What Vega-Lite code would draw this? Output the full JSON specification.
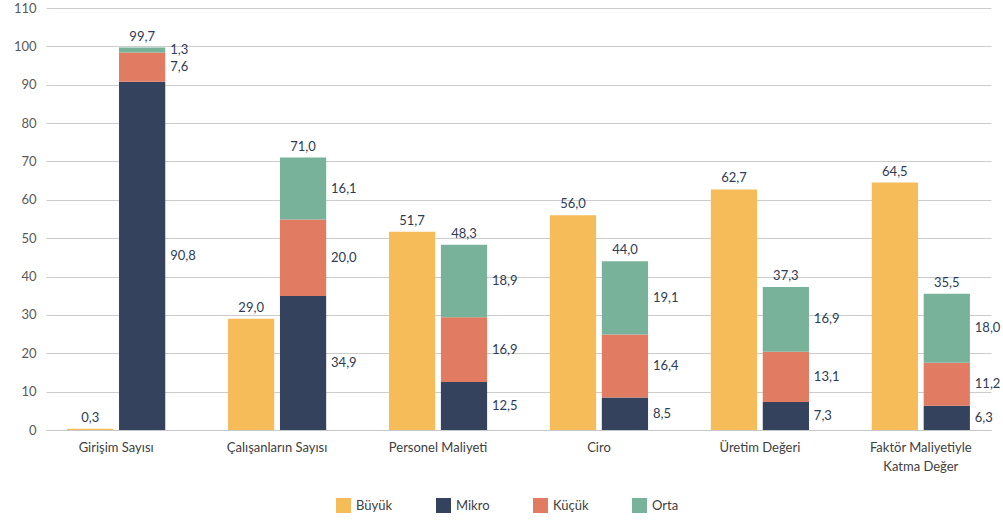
{
  "$schema": "https://vega.github.io/schema/vega-lite/v6.json",
  "width": 945,
  "height": 422,
  "autosize": {"type": "none"},
  "padding": {"left": 46, "top": 8, "right": 12, "bottom": 90},
  "background": "#ffffff",
  "data": {
    "values": [
      {"kategori": "Girişim Sayısı", "grup": "Büyük", "tur": "Büyük", "deger": 0.3},
      {"kategori": "Girişim Sayısı", "grup": "KOBİ", "tur": "Mikro", "deger": 90.8},
      {"kategori": "Girişim Sayısı", "grup": "KOBİ", "tur": "Küçük", "deger": 7.6},
      {"kategori": "Girişim Sayısı", "grup": "KOBİ", "tur": "Orta", "deger": 1.3},
      {"kategori": "Çalışanların Sayısı", "grup": "Büyük", "tur": "Büyük", "deger": 29.0},
      {"kategori": "Çalışanların Sayısı", "grup": "KOBİ", "tur": "Mikro", "deger": 34.9},
      {"kategori": "Çalışanların Sayısı", "grup": "KOBİ", "tur": "Küçük", "deger": 20.0},
      {"kategori": "Çalışanların Sayısı", "grup": "KOBİ", "tur": "Orta", "deger": 16.1},
      {"kategori": "Personel Maliyeti", "grup": "Büyük", "tur": "Büyük", "deger": 51.7},
      {"kategori": "Personel Maliyeti", "grup": "KOBİ", "tur": "Mikro", "deger": 12.5},
      {"kategori": "Personel Maliyeti", "grup": "KOBİ", "tur": "Küçük", "deger": 16.9},
      {"kategori": "Personel Maliyeti", "grup": "KOBİ", "tur": "Orta", "deger": 18.9},
      {"kategori": "Ciro", "grup": "Büyük", "tur": "Büyük", "deger": 56.0},
      {"kategori": "Ciro", "grup": "KOBİ", "tur": "Mikro", "deger": 8.5},
      {"kategori": "Ciro", "grup": "KOBİ", "tur": "Küçük", "deger": 16.4},
      {"kategori": "Ciro", "grup": "KOBİ", "tur": "Orta", "deger": 19.1},
      {"kategori": "Üretim Değeri", "grup": "Büyük", "tur": "Büyük", "deger": 62.7},
      {"kategori": "Üretim Değeri", "grup": "KOBİ", "tur": "Mikro", "deger": 7.3},
      {"kategori": "Üretim Değeri", "grup": "KOBİ", "tur": "Küçük", "deger": 13.1},
      {"kategori": "Üretim Değeri", "grup": "KOBİ", "tur": "Orta", "deger": 16.9},
      {"kategori": "Faktör Maliyetiyle Katma Değer", "grup": "Büyük", "tur": "Büyük", "deger": 64.5},
      {"kategori": "Faktör Maliyetiyle Katma Değer", "grup": "KOBİ", "tur": "Mikro", "deger": 6.3},
      {"kategori": "Faktör Maliyetiyle Katma Değer", "grup": "KOBİ", "tur": "Küçük", "deger": 11.2},
      {"kategori": "Faktör Maliyetiyle Katma Değer", "grup": "KOBİ", "tur": "Orta", "deger": 18.0}
    ]
  },
  "transform": [
    {"calculate": "indexof(['Büyük','Mikro','Küçük','Orta'], datum.tur)", "as": "sira"},
    {"stack": "deger", "groupby": ["kategori", "grup"], "sort": [{"field": "sira", "order": "ascending"}], "as": ["alt", "ust"]},
    {"calculate": "(datum.alt + datum.ust) / 2", "as": "orta"}
  ],
  "encoding": {
    "x": {
      "field": "kategori",
      "type": "nominal",
      "sort": null,
      "scale": {"paddingInner": 0.39, "paddingOuter": 0.131},
      "axis": {
        "title": null,
        "labelAngle": 0,
        "ticks": false,
        "domain": true,
        "domainColor": "#c8c8c8",
        "domainWidth": 1,
        "labelColor": "#404040",
        "labelFont": "Lato",
        "labelFontSize": 13,
        "labelPadding": 11,
        "labelLineHeight": 19,
        "labelExpr": "datum.value == 'Faktör Maliyetiyle Katma Değer' ? ['Faktör Maliyetiyle', 'Katma Değer'] : datum.label"
      }
    },
    "xOffset": {
      "field": "grup",
      "type": "nominal",
      "sort": ["Büyük", "KOBİ"],
      "scale": {"paddingInner": 0.11, "paddingOuter": 0}
    }
  },
  "layer": [
    {
      "mark": {"type": "bar"},
      "encoding": {
        "y": {
          "field": "ust",
          "type": "quantitative",
          "scale": {"domain": [0, 110], "nice": false},
          "axis": {
            "title": null,
            "values": [0, 10, 20, 30, 40, 50, 60, 70, 80, 90, 100, 110],
            "domain": false,
            "ticks": false,
            "gridColor": "#cccccc",
            "gridWidth": 1,
            "labelColor": "#595959",
            "labelFont": "Lato",
            "labelFontSize": 13,
            "labelPadding": 10
          }
        },
        "y2": {"field": "alt"},
        "color": {
          "field": "tur",
          "type": "nominal",
          "scale": {
            "domain": ["Büyük", "Mikro", "Küçük", "Orta"],
            "range": ["#F6BC5A", "#34425E", "#E17B62", "#79B29A"]
          },
          "legend": {
            "title": null,
            "orient": "none",
            "direction": "horizontal",
            "legendX": 290,
            "legendY": 490,
            "symbolType": "square",
            "symbolSize": 225,
            "symbolStrokeWidth": 0,
            "labelFont": "Lato",
            "labelFontSize": 13,
            "labelColor": "#404040",
            "labelOffset": 5,
            "columnPadding": 43
          }
        }
      }
    },
    {
      "transform": [{"filter": "datum.grup == 'KOBİ'"}],
      "mark": {"type": "text", "align": "left", "baseline": "middle", "dx": 28, "font": "Lato", "fontSize": 13, "color": "#2E3B55"},
      "encoding": {
        "y": {
          "field": "orta",
          "type": "quantitative",
          "scale": {"domain": [0, 110], "nice": false},
          "axis": {
            "title": null,
            "values": [0, 10, 20, 30, 40, 50, 60, 70, 80, 90, 100, 110],
            "domain": false,
            "ticks": false,
            "gridColor": "#cccccc",
            "gridWidth": 1,
            "labelColor": "#595959",
            "labelFont": "Lato",
            "labelFontSize": 13,
            "labelPadding": 10
          }
        },
        "text": {"field": "deger", "type": "quantitative", "format": ".1f"}
      }
    },
    {
      "transform": [
        {"aggregate": [{"op": "max", "field": "ust", "as": "toplam"}], "groupby": ["kategori", "grup"]}
      ],
      "mark": {"type": "text", "align": "center", "baseline": "bottom", "dy": -4, "font": "Lato", "fontSize": 13, "color": "#2E3B55"},
      "encoding": {
        "y": {
          "field": "toplam",
          "type": "quantitative",
          "scale": {"domain": [0, 110], "nice": false},
          "axis": {
            "title": null,
            "values": [0, 10, 20, 30, 40, 50, 60, 70, 80, 90, 100, 110],
            "domain": false,
            "ticks": false,
            "gridColor": "#cccccc",
            "gridWidth": 1,
            "labelColor": "#595959",
            "labelFont": "Lato",
            "labelFontSize": 13,
            "labelPadding": 10
          }
        },
        "text": {"field": "toplam", "type": "quantitative", "format": ".1f"}
      }
    }
  ],
  "config": {
    "view": {"stroke": null},
    "locale": {"number": {"decimal": ",", "thousands": ".", "grouping": [3], "currency": ["", " TL"]}},
    "font": "Lato"
  }
}
